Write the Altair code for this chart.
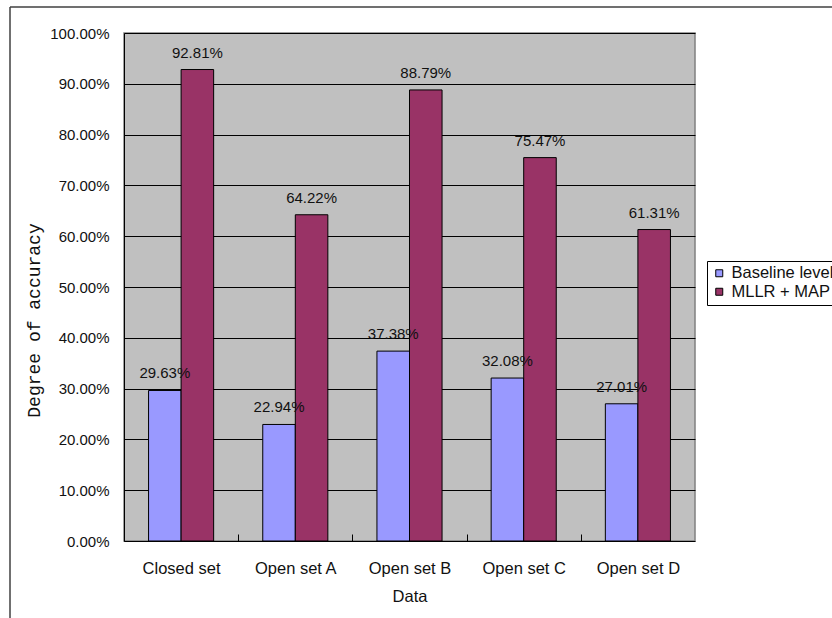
import altair as alt
import pandas as pd

categories = ["Closed set", "Open set A", "Open set B", "Open set C", "Open set D"]
series_names = ["Baseline level", "MLLR + MAP"]
baseline_pct = [29.63, 22.94, 37.38, 32.08, 27.01]
mllr_map_pct = [92.81, 64.22, 88.79, 75.47, 61.31]
y_ticks = [i / 10 for i in range(11)]
colors = ["#9999FF", "#993366"]

rows = []
for i, c in enumerate(categories):
    rows.append({"cat": c, "series": series_names[0], "value": baseline_pct[i] / 100.0})
    rows.append({"cat": c, "series": series_names[1], "value": mllr_map_pct[i] / 100.0})
df = pd.DataFrame(rows)

W, H = 571, 508
step = W / len(categories)
FONT = "Liberation Sans"

x_enc = alt.X(
    "cat:N",
    sort=categories,
    scale=alt.Scale(paddingInner=0.43, paddingOuter=0.215),
    axis=alt.Axis(
        title="Data",
        labelAngle=0,
        offset=-7,
        tickSize=7,
        tickColor="black",
        tickWidth=1,
        domain=False,
        grid=False,
        tickOffset=-step / 2,
        labelOffset=step / 2,
        labelPadding=19,
        labelFont=FONT,
        labelFontSize=16.5,
        labelColor="#111",
        titleFont=FONT,
        titleFontSize=16.5,
        titleFontWeight="normal",
        titleColor="#111",
        titlePadding=12,
    ),
)
xoff = alt.XOffset("series:N", sort=series_names,
                   scale=alt.Scale(paddingInner=0, paddingOuter=0))
y_enc = alt.Y(
    "value:Q",
    scale=alt.Scale(domain=[0, 1], nice=False),
    axis=alt.Axis(
        title="Degree of accuracy",
        values=y_ticks,
        format=".2%",
        ticks=False,
        domain=True,
        domainColor="black",
        domainWidth=1,
        grid=True,
        gridColor="black",
        gridWidth=1,
        gridOpacity=1,
        labelPadding=15,
        labelFont=FONT,
        labelFontSize=15,
        labelColor="#111",
        titleFont="Liberation Mono",
        titleFontSize=18,
        titleFontWeight="normal",
        titleColor="#111",
        titleX=-90,
        titleY=287,
        titleAlign="center",
        titleBaseline="middle",
    ),
)

bars = alt.Chart(df).mark_bar(stroke="black", strokeWidth=1).encode(
    x=x_enc,
    xOffset=xoff,
    y=y_enc,
    color=alt.Color(
        "series:N",
        sort=series_names,
        scale=alt.Scale(domain=series_names, range=colors),
        legend=alt.Legend(
            title=None,
            orient="none",
            legendX=583,
            legendY=228,
            symbolType="square",
            symbolSize=49,
            symbolStrokeColor="black",
            symbolStrokeWidth=1,
            labelFont=FONT,
            labelFontSize=16.5,
            labelColor="#111",
            labelOffset=4,
            rowPadding=1.5,
            padding=4,
            strokeColor="black",
            fillColor="white",
        ),
    ),
)

labels = alt.Chart(df).mark_text(
    baseline="middle", align="center", dy=-17, font=FONT, fontSize=15, color="#111"
).encode(
    x=alt.X("cat:N", sort=categories),
    xOffset=alt.XOffset("series:N", sort=series_names),
    y=alt.Y("value:Q"),
    text=alt.Text("value:Q", format=".2%"),
)

one = pd.DataFrame({"a": [0]})
border_left = alt.Chart(one).mark_rule(color="#404040", strokeWidth=1.5).encode(
    x=alt.value(-114), y=alt.value(-26), y2=alt.value(600)
)
border_top = alt.Chart(one).mark_rule(color="#404040", strokeWidth=1.5).encode(
    x=alt.value(-114), x2=alt.value(720), y=alt.value(-26)
)

chart = (
    alt.layer(bars, labels, border_left, border_top)
    .properties(
        width=W,
        height=H,
        autosize=alt.AutoSizeParams(type="none"),
        padding={"left": 124, "top": 33, "right": 137, "bottom": 77},
        background="white",
    )
    .configure_view(fill="#C0C0C0", stroke="#808080", strokeWidth=1.5)
)

chart.save("out.html", embed_options={"renderer": "svg", "actions": False})
